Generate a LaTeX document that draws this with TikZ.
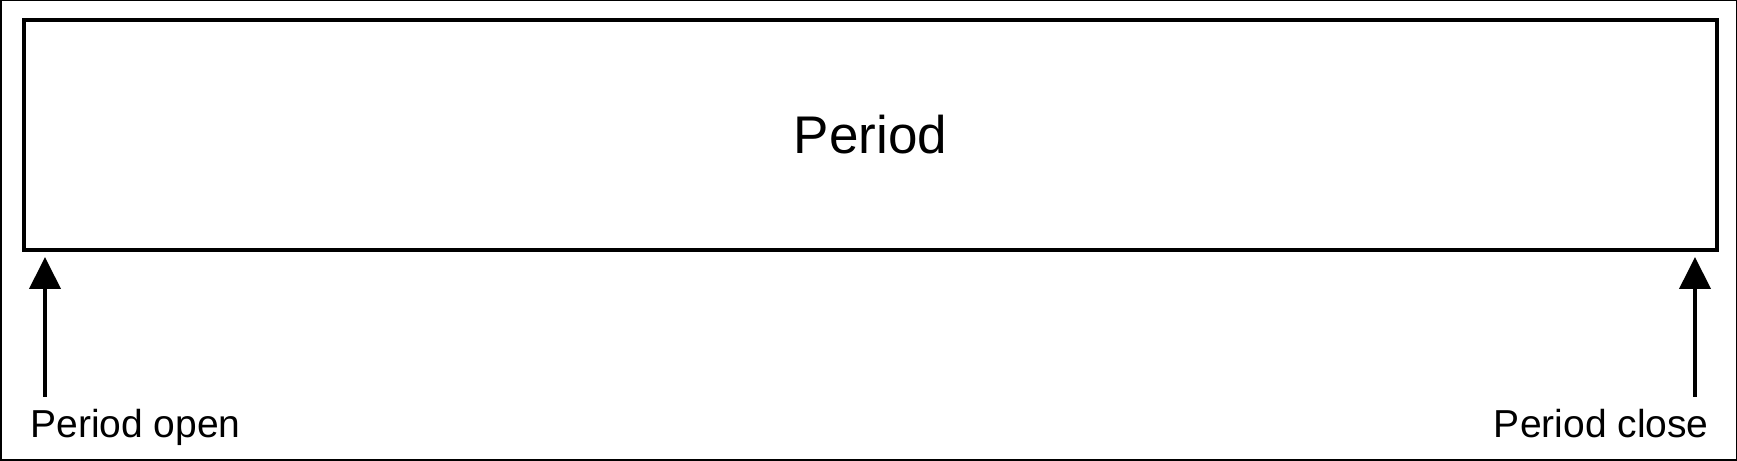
\documentclass[tikz,border=0pt]{standalone}
\usepackage{fontspec}
\setmainfont{Liberation Sans}
\usetikzlibrary{arrows.meta}

\begin{document}
\begin{tikzpicture}[x=0.5pt, y=0.5pt,
            period/.style={draw, line width=1.75pt, inner sep=0pt,
                minimum width=846.5pt, minimum height=115pt,
                font=\fontsize{26.5pt}{30pt}\selectfont},
            label/.style={inner sep=0pt, font=\fontsize{19.5pt}{23pt}\selectfont},
            marker/.style={line width=2pt, -{Triangle[length=16pt, width=15.5pt]}}]
    \useasboundingbox (0,0) rectangle (1737,461);
    \draw[line width=0.75pt] (0.75,0.75) rectangle (1736.25,460.25);
    \node[period] (period) at (870.5,326) {Period};
    \coordinate (openTail) at (45,64);
    \coordinate (openTip) at (45,204);
    \coordinate (closeTail) at (1695,64);
    \coordinate (closeTip) at (1695,204);
    \draw[marker] (openTail) -- (openTip);
    \draw[marker] (closeTail) -- (closeTip);
    \node[label, anchor=base west] (open) at (30,23) {Period open};
    \node[label, anchor=base east] (close) at (1709,23) {Period close};
\end{tikzpicture}
\end{document}
